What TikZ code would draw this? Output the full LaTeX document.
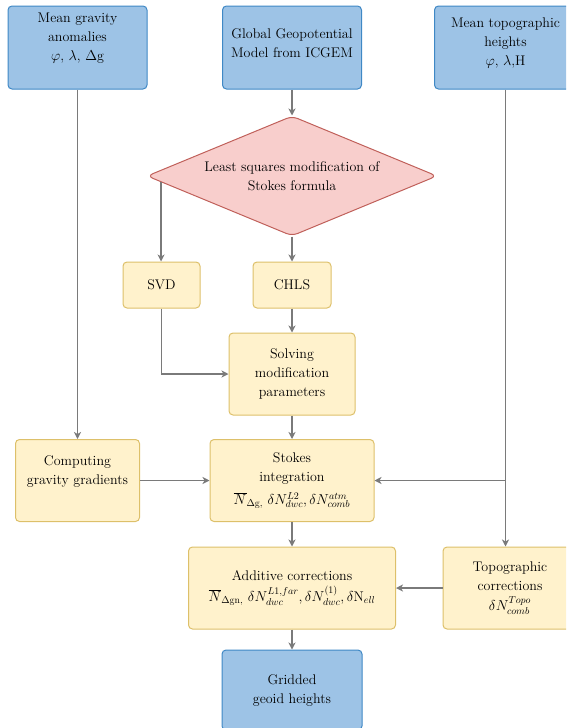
\documentclass[tikz,border=0pt]{standalone}
\usepackage{fontspec}
\usetikzlibrary{shapes.geometric,arrows.meta,calc}

\definecolor{bluefill}{HTML}{9DC3E6}
\definecolor{blueline}{HTML}{3F88C5}
\definecolor{yelfill}{HTML}{FFF2CC}
\definecolor{yelline}{HTML}{DDC06A}
\definecolor{pinkfill}{HTML}{F8CECC}
\definecolor{pinkline}{HTML}{C0605A}
\definecolor{conngray}{HTML}{7A7A7A}

\tikzset{
  boxbase/.style={rectangle,rounded corners=4pt,line width=1pt,align=center,inner sep=2pt,font=\fontsize{14}{19}\selectfont},
  inbox/.style={boxbase,draw=blueline,fill=bluefill},
  procbox/.style={boxbase,draw=yelline,fill=yelfill},
  decbox/.style={diamond,aspect=2.4,draw=pinkline,fill=pinkfill,line width=1pt,rounded corners=6pt,align=center,inner sep=0pt,font=\fontsize{14}{19}\selectfont},
  txt/.style={align=center,inner sep=0pt,font=\fontsize{14}{19}\selectfont},
  conn/.style={draw=conngray,line width=1.2pt,-{Stealth[length=7pt,width=7pt,inset=2pt]}},
}

\begin{document}
\begin{tikzpicture}[x=1pt,y=-1pt]
\clip (0,0) rectangle (566,728);

% input data
\node[inbox,minimum width=139pt,minimum height=83pt,
  label={[txt,name=mgatxt,yshift=9.5pt]center:{Mean gravity\\anomalies\\$\varphi$, $\lambda$, $\Delta$g}}] (mga) at (77.5,47.5) {};
\node[inbox,minimum width=139pt,minimum height=83pt,
  label={[txt,name=ggmtxt,yshift=4.5pt]center:{Global Geopotential\\Model from ICGEM}}] (ggm) at (292,47.5) {};
\node[inbox,minimum width=142pt,minimum height=83pt,
  label={[txt,name=topohtxt,yshift=4.5pt]center:{Mean topographic\\heights\\$\varphi$, $\lambda$,H}}] (topoh) at (505.5,47.5) {};

% modification
\node[decbox,minimum width=290pt,minimum height=120pt] (lsm) at (292,176) {Least squares modification of\\Stokes formula};
\node[procbox,minimum width=77pt,minimum height=46pt] (svd) at (161.5,285) {SVD};
\node[procbox,minimum width=78pt,minimum height=46pt] (chls) at (292,285) {CHLS};
\node[procbox,minimum width=126pt,minimum height=82pt] (solv) at (292,374) {Solving\\modification\\parameters};

% integration and corrections
\node[procbox,minimum width=124pt,minimum height=82pt,
  label={[txt,name=comptxt,yshift=9pt]center:{Computing\\gravity gradients}}] (comp) at (77.5,480.5) {};
\node[procbox,minimum width=164pt,minimum height=82pt] (stokes) at (292,480.5)
  {Stokes\\integration\\[4pt]$\overline{N}_{\Delta\mathrm{g,}}\ \delta N^{L2}_{dwc}, \delta N^{atm}_{comb}$};
\node[procbox,minimum width=207pt,minimum height=82pt] (addc) at (292,588)
  {Additive corrections\\[2pt]$\overline{N}_{\Delta\mathrm{gn,}}\ \delta N^{L1,far}_{dwc}, \delta N^{(1)}_{dwc}, \delta\mathrm{N}_{ell}$};
\node[procbox,minimum width=134pt,minimum height=82pt] (topoc) at (510,588) {Topographic\\corrections\\[1pt]$\delta N^{Topo}_{comb}$};
\node[inbox,minimum width=140pt,minimum height=80pt] (grid) at (292,690) {Gridded\\geoid heights};

% connectors
\coordinate (tb) at (topoh |- stokes);
\coordinate (ls) at ($(lsm.west)!0.1!(lsm.south)$);
\draw[conn] (mga) -- (comp);
\draw[conn] (ggm) -- (lsm);
\draw[conn] (topoh) -- (topoh |- topoc.north);
\draw[conn] (tb) -- (stokes);
\draw[conn] (ls) -- (ls |- svd.north);
\draw[conn] (lsm) -- (chls);
\draw[conn] (chls) -- (solv);
\draw[conn] (svd) |- (solv);
\draw[conn] (solv) -- (stokes);
\draw[conn] (comp) -- (stokes);
\draw[conn] (stokes) -- (addc);
\draw[conn] (topoc) -- (addc);
\draw[conn] (addc) -- (grid);

\end{tikzpicture}
\end{document}
